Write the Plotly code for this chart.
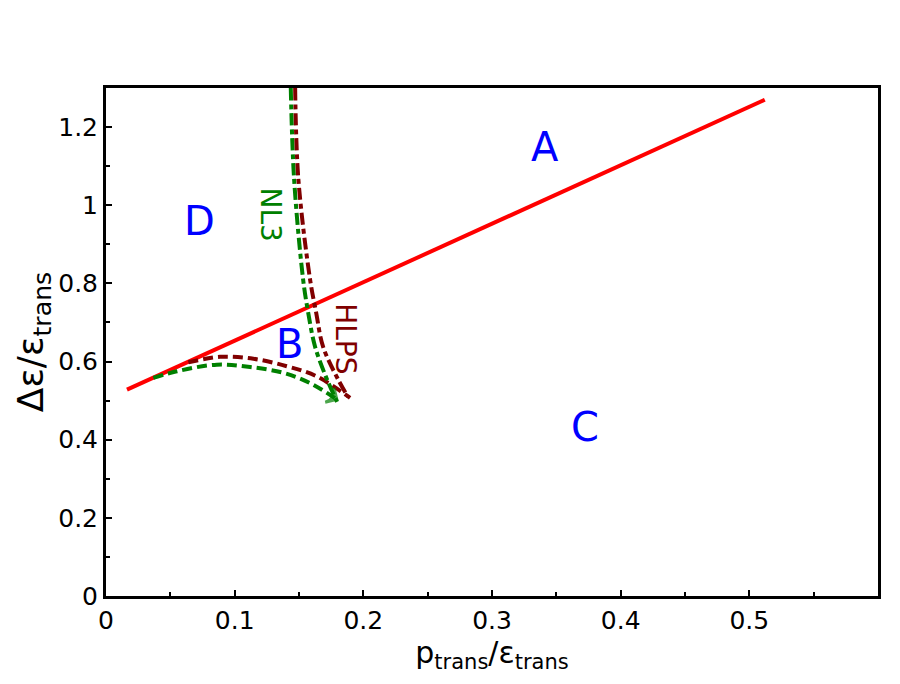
import plotly.graph_objects as go

# Boundary line (red)
red_x = [0.0163, 0.512]
red_y = [0.528, 1.270]

# NL3 upper branch (green dash-dot)
nl3_up_x = [0.1436, 0.1462, 0.1532, 0.1571, 0.1625, 0.1718, 0.1796]
nl3_up_y = [1.300, 1.067, 0.810, 0.726, 0.638, 0.554, 0.497]

# HLPS upper branch (dark red dash-dot)
hlps_up_x = [0.1470, 0.1495, 0.1586, 0.1633, 0.1687, 0.1804, 0.1880]
hlps_up_y = [1.300, 1.067, 0.810, 0.726, 0.638, 0.554, 0.510]

# NL3 lower branch (green dashed)
nl3_lo_x = [0.0368, 0.0550, 0.0861, 0.1120, 0.1379, 0.1586, 0.1794]
nl3_lo_y = [0.558, 0.575, 0.592, 0.586, 0.571, 0.545, 0.503]

# HLPS lower branch (dark red dashed)
hlps_lo_x = [0.0640, 0.0886, 0.1146, 0.1405, 0.1638, 0.1897]
hlps_lo_y = [0.598, 0.612, 0.607, 0.588, 0.562, 0.507]

# Region labels
region_labels = ["A", "B", "C", "D"]
region_x = [0.341, 0.143, 0.372, 0.073]
region_y = [1.149, 0.644, 0.433, 0.959]

x_ticks = [0, 0.1, 0.2, 0.3, 0.4, 0.5]
x_ticklabels = ["0", "0.1", "0.2", "0.3", "0.4", "0.5"]
y_ticks = [0, 0.2, 0.4, 0.6, 0.8, 1.0, 1.2]
y_ticklabels = ["0", "0.2", "0.4", "0.6", "0.8", "1", "1.2"]

GREEN = "rgb(0,128,0)"
DRED = "rgb(128,0,0)"
RED = "rgb(255,0,0)"
BLUE = "rgb(0,0,255)"
FONT = "DejaVu Sans"

fig = go.Figure()
fig.add_trace(go.Scatter(x=red_x, y=red_y, mode="lines",
                         line=dict(color=RED, width=4), showlegend=False))
fig.add_trace(go.Scatter(x=nl3_lo_x, y=nl3_lo_y, mode="lines",
                         line=dict(color=GREEN, width=4, dash="10px,5px", shape="spline"),
                         showlegend=False))
fig.add_trace(go.Scatter(x=hlps_lo_x, y=hlps_lo_y, mode="lines",
                         line=dict(color=DRED, width=4, dash="10px,5px", shape="spline"),
                         showlegend=False))
fig.add_trace(go.Scatter(x=nl3_up_x, y=nl3_up_y, mode="lines",
                         line=dict(color=GREEN, width=4, dash="12px,4px,5px,4px", shape="spline"),
                         showlegend=False))
fig.add_trace(go.Scatter(x=hlps_up_x, y=hlps_up_y, mode="lines",
                         line=dict(color=DRED, width=4, dash="12px,4px,5px,4px", shape="spline"),
                         showlegend=False))
# arrow head at end of NL3 lower branch
fig.add_trace(go.Scatter(x=nl3_lo_x[-2:], y=nl3_lo_y[-2:], mode="markers",
                         marker=dict(symbol="arrow-wide-open", angleref="previous", size=[0, 12],
                                     color=GREEN, line=dict(width=3, color=GREEN)),
                         showlegend=False))

for lab, x, y in zip(region_labels, region_x, region_y):
    fig.add_annotation(x=x, y=y, text=lab, showarrow=False,
                       font=dict(family=FONT, size=40, color=BLUE))

fig.add_annotation(x=0.128, y=0.977, text="NL3", textangle=90, showarrow=False,
                   font=dict(family=FONT, size=28, color=GREEN))
fig.add_annotation(x=0.186, y=0.659, text="HLPS", textangle=90, showarrow=False,
                   font=dict(family=FONT, size=28, color=DRED))

axis_common = dict(showline=True, linecolor="black", linewidth=3, mirror=True,
                   showgrid=False, zeroline=False, ticks="inside", ticklen=6,
                   tickwidth=2, tickcolor="black",
                   tickfont=dict(family=FONT, size=25, color="black"))

fig.update_xaxes(range=[0, 0.6], tickvals=x_ticks, ticktext=x_ticklabels,
                 minor=dict(dtick=0.05, ticks="inside", ticklen=4, tickwidth=2, tickcolor="black"),
                 title=dict(text="p<sub>trans</sub>/ε<sub>trans</sub>",
                            font=dict(family=FONT, size=30, color="black"), standoff=6),
                 **axis_common)
fig.update_yaxes(range=[0, 1.3], tickvals=y_ticks, ticktext=y_ticklabels,
                 minor=dict(dtick=0.1, ticks="inside", ticklen=4, tickwidth=2, tickcolor="black"),
                 title=dict(text="Δε/ε<sub>trans</sub>",
                            font=dict(family=FONT, size=36, color="black"), standoff=4),
                 **axis_common)

fig.update_layout(width=892, height=676, plot_bgcolor="white", paper_bgcolor="white",
                  margin=dict(l=98, r=22, t=80, b=88), showlegend=False)

fig.write_html("out.html")
